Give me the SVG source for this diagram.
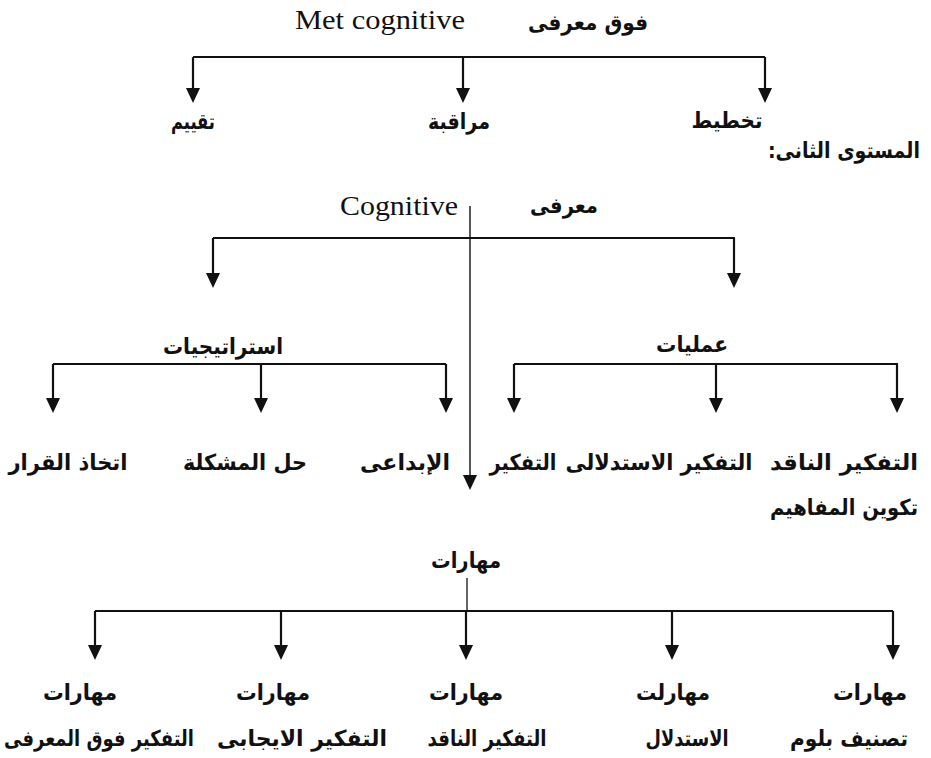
<svg xmlns="http://www.w3.org/2000/svg" width="931" height="758" viewBox="0 0 931 758">
<style>
.bg{fill:#ffffff}
.lat{font-family:"Liberation Serif","Times New Roman",serif;font-size:27px;fill:#111;text-anchor:middle}
.ar{font-family:"DejaVu Sans","Noto Sans",sans-serif;font-weight:bold;font-size:22px;fill:#111;text-anchor:middle;direction:rtl;unicode-bidi:embed}
.ln{fill:none;stroke:#111;stroke-width:2.2}
.thin{fill:none;stroke:#111;stroke-width:1.3}
.arr{fill:none;stroke:#111;stroke-width:2.2;marker-end:url(#ah)}
.arrt{fill:none;stroke:#111;stroke-width:1.4;marker-end:url(#ah)}
</style>
<defs>
<marker id="ah" markerUnits="userSpaceOnUse" viewBox="0 0 16 16" markerWidth="16" markerHeight="16" refX="11" refY="8" orient="auto">
<path d="M0,1 L15,8 L0,15 Z" fill="#111"/>
</marker>
</defs>
<rect class="bg" x="0" y="0" width="931" height="758"/>

<g id="connectors">
<path class="ln" d="M193,57 H765"/>
<path class="arr" d="M193,57 V99"/>
<path class="arr" d="M463,57 V99"/>
<path class="arr" d="M765,57 V99"/>

<path class="arrt" d="M470,206 V486"/>
<path class="ln" d="M213,238 H735"/>
<path class="arr" d="M213,238 V284"/>
<path class="arr" d="M734,238 V284"/>

<path class="ln" d="M53,364 H446"/>
<path class="arr" d="M53,364 V409"/>
<path class="arr" d="M261,364 V409"/>
<path class="arr" d="M446,364 V409"/>
<path class="ln" d="M514,364 H898"/>
<path class="arr" d="M514,364 V409"/>
<path class="arr" d="M716,364 V409"/>
<path class="arr" d="M897,364 V409"/>

<path class="thin" d="M467,578 V611"/>
<path class="ln" d="M95,611 H893"/>
<path class="arr" d="M95,611 V656"/>
<path class="arr" d="M281,611 V656"/>
<path class="arr" d="M466,611 V656"/>
<path class="arr" d="M672,611 V656"/>
<path class="arr" d="M893,611 V656"/>
</g>

<g id="metacognitive">
<text class="lat" x="380" y="29" textLength="170" lengthAdjust="spacingAndGlyphs">Met cognitive</text>
<text class="ar" x="588" y="30" textLength="120" lengthAdjust="spacingAndGlyphs">فوق معرفى</text>
</g>
<g id="n-taqyim"><text class="ar" x="193" y="129" textLength="44" lengthAdjust="spacingAndGlyphs">تقييم</text></g>
<g id="n-muraqaba"><text class="ar" x="459" y="129" textLength="62" lengthAdjust="spacingAndGlyphs">مراقبة</text></g>
<g id="n-takhtit"><text class="ar" x="727" y="128" textLength="71" lengthAdjust="spacingAndGlyphs">تخطيط</text></g>

<g id="level2-title"><text class="ar" x="844" y="158" textLength="152" lengthAdjust="spacingAndGlyphs">المستوى الثانى:&#x200F;</text></g>

<g id="cognitive">
<text class="lat" x="399" y="215" textLength="118" lengthAdjust="spacingAndGlyphs">Cognitive</text>
<text class="ar" x="564" y="213" textLength="68" lengthAdjust="spacingAndGlyphs">معرفى</text>
</g>
<g id="n-strategies"><text class="ar" x="223" y="354" textLength="120" lengthAdjust="spacingAndGlyphs">استراتيجيات</text></g>
<g id="n-processes"><text class="ar" x="692" y="352" textLength="72" lengthAdjust="spacingAndGlyphs">عمليات</text></g>

<g id="n-critical"><text class="ar" x="844" y="470" textLength="148" lengthAdjust="spacingAndGlyphs">التفكير الناقد</text></g>
<g id="n-inferential"><text class="ar" x="659" y="470" textLength="187" lengthAdjust="spacingAndGlyphs">التفكير الاستدلالى</text></g>
<g id="n-creative">
<text class="ar" x="523" y="470" textLength="67" lengthAdjust="spacingAndGlyphs">التفكير</text>
<text class="ar" x="405" y="470" textLength="90" lengthAdjust="spacingAndGlyphs">الإبداعى</text>
</g>
<g id="n-problem"><text class="ar" x="245" y="470" textLength="124" lengthAdjust="spacingAndGlyphs">حل المشكلة</text></g>
<g id="n-decision"><text class="ar" x="68" y="470" textLength="119" lengthAdjust="spacingAndGlyphs">اتخاذ القرار</text></g>
<g id="n-concepts"><text class="ar" x="844" y="515" textLength="148" lengthAdjust="spacingAndGlyphs">تكوين المفاهيم</text></g>

<g id="skills"><text class="ar" x="466" y="568" textLength="70" lengthAdjust="spacingAndGlyphs">مهارات</text></g>

<g id="s-meta">
<text class="ar" x="80" y="700" textLength="74" lengthAdjust="spacingAndGlyphs">مهارات</text>
<text class="ar" x="99" y="746" textLength="190" lengthAdjust="spacingAndGlyphs">التفكير فوق المعرفى</text>
</g>
<g id="s-positive">
<text class="ar" x="273" y="700" textLength="74" lengthAdjust="spacingAndGlyphs">مهارات</text>
<text class="ar" x="302" y="746" textLength="170" lengthAdjust="spacingAndGlyphs">التفكير الايجابى</text>
</g>
<g id="s-critical">
<text class="ar" x="466" y="700" textLength="74" lengthAdjust="spacingAndGlyphs">مهارات</text>
<text class="ar" x="487" y="746" textLength="119" lengthAdjust="spacingAndGlyphs">التفكير الناقد</text>
</g>
<g id="s-inference">
<text class="ar" x="673" y="700" textLength="74" lengthAdjust="spacingAndGlyphs">مهارلت</text>
<text class="ar" x="687" y="746" textLength="83" lengthAdjust="spacingAndGlyphs">الاستدلال</text>
</g>
<g id="s-bloom">
<text class="ar" x="870" y="700" textLength="74" lengthAdjust="spacingAndGlyphs">مهارات</text>
<text class="ar" x="849" y="746" textLength="118" lengthAdjust="spacingAndGlyphs">تصنيف بلوم</text>
</g>
</svg>
